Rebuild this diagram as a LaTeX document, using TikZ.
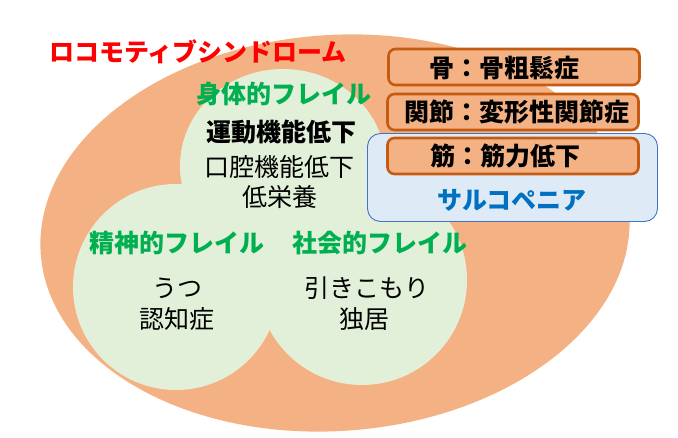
\documentclass[tikz,border=0pt]{standalone}
\usepackage{fontspec}
\setmainfont{Noto Sans CJK JP}
\definecolor{salmon}{HTML}{F4B183}
\definecolor{lgreen}{HTML}{E2F0D9}
\definecolor{boxborder}{HTML}{C55A11}
\definecolor{lblue}{HTML}{DEEBF7}
\definecolor{bborder}{HTML}{4472C4}
\definecolor{tgreen}{HTML}{00B050}
\definecolor{tblue}{HTML}{0070C0}
\definecolor{tred}{HTML}{FF0000}
\begin{document}
\begin{tikzpicture}[x=1pt,y=-1pt,
  pbox/.style={draw=boxborder, line width=2.6pt, fill=salmon, rounded corners=7pt,
    minimum width=251pt, minimum height=36pt, inner sep=0pt},
  bluebox/.style={draw=bborder, line width=0.9pt, fill=lblue, rounded corners=13pt,
    minimum width=290pt, minimum height=88pt, inner sep=0pt},
  txt/.style={font=\fontsize{25}{29}\selectfont, inner sep=0pt},
  btxt/.style={font=\fontsize{25}{29}\selectfont\bfseries, inner sep=0pt},
  greenlbl/.style={btxt, text=tgreen},
]
\useasboundingbox (0,0) rectangle (678,438);
% outer ellipse
\fill[salmon, rotate around={4:(335,233)}] (335,233) ellipse [x radius=295, y radius=198];
% green lobes
\fill[lgreen] (283,166) ellipse [x radius=103, y radius=97];
\fill[lgreen] (176,287) circle [radius=103];
\fill[lgreen] (362,280) circle [radius=105];
% boxes
\node[bluebox] (sarco) at (512.5,177.5) {};
\node[pbox] (bone) at (514,67) {};
\node[pbox] (joint) at (513,112) {};
\node[pbox] (muscle) at (513,156) {};
% texts
\node[btxt, text=tred] (loco) at (198,52) {ロコモティブシンドローム};
\node[btxt] (tbone) at (504,68) {骨：骨粗鬆症};
\node[btxt] (tjoint) at (517,112) {関節：変形性関節症};
\node[btxt] (tmuscle) at (505,156) {筋：筋力低下};
\node[btxt, text=tblue] (tsarco) at (512,200) {サルコペニア};
\node[greenlbl] (phys) at (284,94) {身体的フレイル};
\node[btxt] (undo) at (281,132) {運動機能低下};
\node[txt] (koukuu) at (279,167) {口腔機能低下};
\node[txt] (teiei) at (280,197) {低栄養};
\node[greenlbl] (mental) at (177,243) {精神的フレイル};
\node[greenlbl] (social) at (380,243) {社会的フレイル};
\node[txt] (utsu) at (177,288) {うつ};
\node[txt] (ninchi) at (177,319) {認知症};
\node[txt] (hiki) at (367,288) {引きこもり};
\node[txt] (dokkyo) at (364,319) {独居};
\end{tikzpicture}
\end{document}
